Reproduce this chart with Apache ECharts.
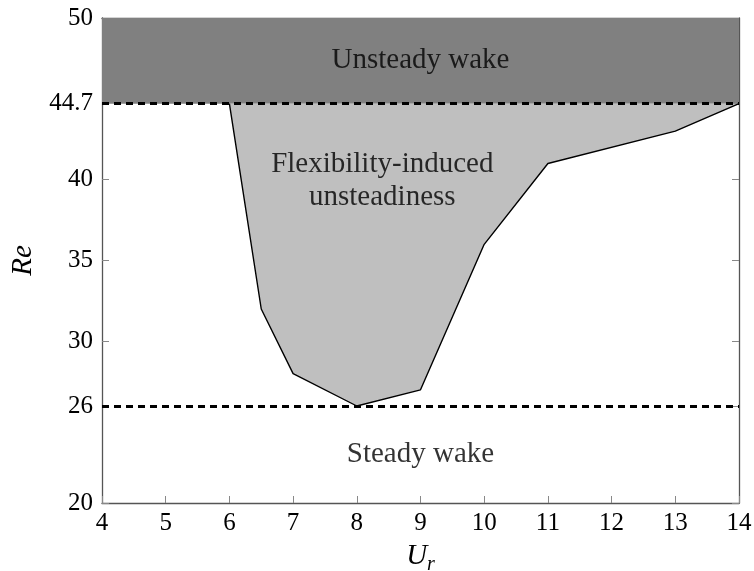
<!DOCTYPE html>
<html><head><meta charset="utf-8">
<script src="https://cdn.jsdelivr.net/npm/echarts@6/dist/echarts.min.js"></script>
<style>html,body{margin:0;padding:0;background:#fff}#c{width:754px;height:571px}</style>
</head><body><div id="c"></div>
<script>
const boundaryUr = [6, 6.5, 7, 8, 9, 10, 11, 13, 14];
const boundaryRe = [44.7, 32, 28, 26, 27, 36, 41, 43, 44.7];
const steadyLimit = 26;
const unsteadyLimit = 44.7;
const xTicks = [4,5,6,7,8,9,10,11,12,13,14];
const yTicks = [20, 26, 30, 35, 40, 44.7, 50];
const regionLabels = [
  {name: 'Unsteady wake', pos: [9, 47.35]},
  {name: 'Flexibility-induced\nunsteadiness', pos: [8.4, 39.9]},
  {name: 'Steady wake', pos: [9, 23]}
];

const font = 'Liberation Serif, DejaVu Serif, serif';
const poly = boundaryUr.map((x, i) => [x, boundaryRe[i]]);
const chart = echarts.init(document.getElementById('c'));
chart.setOption({
  animation: false,
  grid: {left: 102, right: 15, top: 18, bottom: 68, containLabel: false, outerBoundsMode: 'none'},
  xAxis: [{
    type: 'value', min: 4, max: 14, interval: 1, position: 'bottom',
    name: '{i|U}{s|r}', nameLocation: 'middle', nameGap: 34,
    nameTextStyle: {rich: {i: {fontFamily: font, fontStyle: 'italic', fontSize: 29, color: '#000'},
                           s: {fontFamily: font, fontStyle: 'italic', fontSize: 20, color: '#000', padding: [18,0,0,0]}}},
    axisLine: {onZero: false, lineStyle: {color: '#555', width: 1.3}},
    axisTick: {inside: true, length: 7, lineStyle: {color: '#888'}, customValues: xTicks},
    axisLabel: {fontFamily: font, fontSize: 25, color: '#000', margin: 8, customValues: xTicks},
    splitLine: {show: false}
  }, {
    type: 'value', min: 4, max: 14, position: 'top',
    axisLine: {onZero: false, lineStyle: {color: '#555', width: 1.3}},
    axisTick: {show: false}, axisLabel: {show: false}, splitLine: {show: false}
  }],
  yAxis: [{
    type: 'value', min: 20, max: 50, position: 'left',
    name: 'Re', nameLocation: 'middle', nameGap: 60, nameRotate: 90,
    nameTextStyle: {fontFamily: font, fontStyle: 'italic', fontSize: 29, color: '#000'},
    axisLine: {onZero: false, lineStyle: {color: '#555', width: 1.3}},
    axisTick: {inside: true, length: 7, lineStyle: {color: '#888'}, customValues: yTicks},
    axisLabel: {fontFamily: font, fontSize: 25, color: '#000', margin: 9, customValues: yTicks,
      formatter: v => String(Math.round(v * 10) / 10)},
    splitLine: {show: false}
  }, {
    type: 'value', min: 20, max: 50, position: 'right',
    axisLine: {onZero: false, lineStyle: {color: '#555', width: 1.3}},
    axisTick: {inside: true, length: 7, lineStyle: {color: '#888'}, customValues: yTicks},
    axisLabel: {show: false}, splitLine: {show: false}
  }],
  series: [{
    type: 'custom',
    coordinateSystem: 'cartesian2d',
    data: [0],
    z: 2,
    renderItem: (params, api) => ({
      type: 'polygon',
      shape: {points: poly.map(p => api.coord(p))},
      style: {fill: '#bfbfbf', stroke: 'none'}
    })
  }, {
    type: 'line',
    data: poly,
    symbol: 'none',
    z: 3,
    lineStyle: {color: '#000', width: 1.4},
    markArea: {
      silent: true,
      itemStyle: {color: '#808080'},
      data: [[{yAxis: unsteadyLimit, xAxis: 4}, {yAxis: 50, xAxis: 14}]]
    },
    markLine: {
      silent: true, symbol: 'none',
      label: {show: false},
      lineStyle: {color: '#000', type: [7, 5], width: 2.8},
      data: [{yAxis: steadyLimit}, {yAxis: unsteadyLimit}]
    }
  }, {
    type: 'scatter',
    symbolSize: 0,
    z: 5,
    data: regionLabels.map(d => ({name: d.name, value: d.pos})),
    label: {show: true, position: 'inside', formatter: p => p.name,
      fontFamily: font, fontSize: 29, color: '#000', lineHeight: 33, align: 'center'}
  }]
});
</script></body></html>
